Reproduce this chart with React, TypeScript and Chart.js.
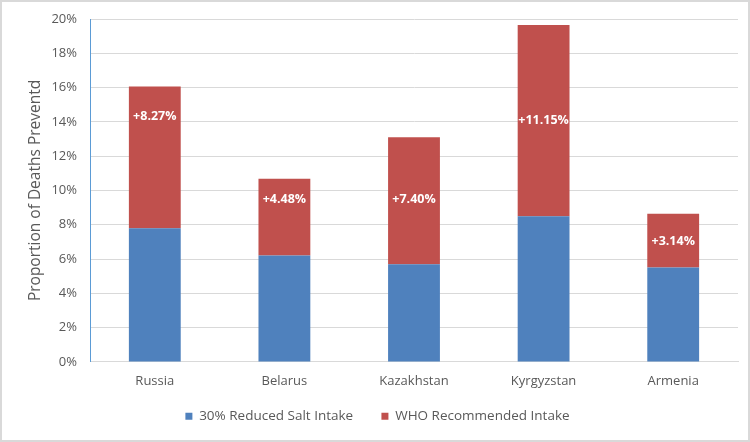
import React, { useEffect, useRef } from "react";
import { Chart, registerables } from "chart.js";

Chart.register(...registerables);

const categories = ["Russia", "Belarus", "Kazakhstan", "Kyrgyzstan", "Armenia"];
const reducedSalt = [7.8, 6.2, 5.7, 8.5, 5.5];
const whoRecommended = [8.27, 4.48, 7.4, 11.15, 3.14];
const segmentLabels = ["+8.27%", "+4.48%", "+7.40%", "+11.15%", "+3.14%"];
const labelLevels = [14.3, 9.45, 9.45, 14.1, 7.05];
const seriesNames = ["30% Reduced Salt Intake", "WHO Recommended Intake"];
const yTitle = "Proportion of Deaths Preventd";

const FONT = "'Open Sans', 'DejaVu Sans', sans-serif";

const labelPlugin = {
  id: "segLabels",
  afterDatasetsDraw(chart: any) {
    const ctx = chart.ctx;
    const meta = chart.getDatasetMeta(1);
    const y = chart.scales.y;
    ctx.save();
    ctx.fillStyle = "#ffffff";
    ctx.font = `bold 12.5px ${FONT}`;
    ctx.textAlign = "center";
    ctx.textBaseline = "middle";
    meta.data.forEach((bar: any, i: number) => {
      ctx.fillText(segmentLabels[i], bar.x, y.getPixelForValue(labelLevels[i]));
    });
    ctx.restore();
  },
};

export default function App() {
  const ref = useRef<HTMLCanvasElement>(null);
  useEffect(() => {
    document.body.style.margin = "0";
    const chart = new Chart(ref.current!, {
      type: "bar",
      data: {
        labels: categories,
        datasets: [
          {
            label: seriesNames[0],
            data: reducedSalt,
            backgroundColor: "#4F81BD",
            categoryPercentage: 0.8,
            barPercentage: 0.5,
          },
          {
            label: seriesNames[1],
            data: whoRecommended,
            backgroundColor: "#C0504D",
            categoryPercentage: 0.8,
            barPercentage: 0.5,
          },
        ],
      },
      options: {
        animation: false,
        responsive: false,
        maintainAspectRatio: false,
        layout: { padding: { left: 15, right: 10, top: 17, bottom: 7 } },
        plugins: {
          legend: {
            position: "bottom",
            labels: {
              boxWidth: 7,
              boxHeight: 7,
              padding: 8,
              color: "#595959",
              font: { family: FONT, size: 13.5 },
              generateLabels: (chart: any) => {
                const items = Chart.defaults.plugins.legend.labels.generateLabels(chart);
                items.forEach((it: any, i: number) => {
                  if (i < items.length - 1) it.text = it.text + "\u2003\u2002";
                });
                return items;
              },
            },
          },
          tooltip: { enabled: false },
        },
        scales: {
          x: {
            stacked: true,
            grid: { display: false, drawTicks: false },
            border: { display: true, color: "#D9D9D9" },
            ticks: { color: "#595959", font: { family: FONT, size: 13 }, padding: 12 },
          },
          y: {
            stacked: true,
            min: 0,
            max: 20,
            afterFit: (scale: any) => {
              scale.width = 73;
              scale.paddingTop = 0;
            },
            ticks: {
              stepSize: 2,
              color: "#595959",
              font: { family: FONT, size: 13 },
              padding: 13,
              callback: (v: any) => `${v}%`,
            },
            grid: { color: "#D9D9D9", drawTicks: false },
            border: { display: true, color: "#5B9BD5" },
            title: {
              display: true,
              text: yTitle,
              color: "#595959",
              font: { family: FONT, size: 15.5 },
              padding: { top: 9, bottom: 0 },
            },
          },
        },
      },
      plugins: [labelPlugin],
    });
    return () => chart.destroy();
  }, []);
  return (
    <div
      style={{
        width: 750,
        height: 442,
        boxSizing: "border-box",
        border: "2px solid #D9D9D9",
        background: "#fff",
      }}
    >
      <canvas ref={ref} width={746} height={438} />
    </div>
  );
}
